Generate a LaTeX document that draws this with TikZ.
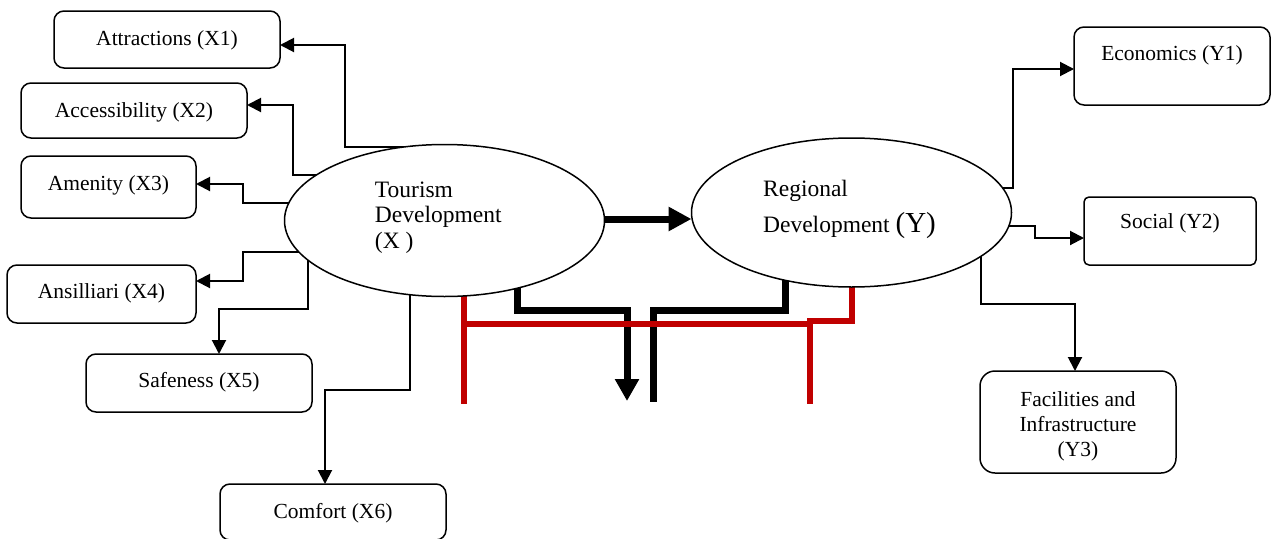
\documentclass[tikz,border=0pt]{standalone}
\usepackage{fontspec}
\setmainfont{Liberation Serif}
\usetikzlibrary{arrows.meta,shapes.geometric,calc}
\definecolor{darkred}{HTML}{C00000}
\pgfdeclarelayer{bg}
\pgfsetlayers{bg,main}
\begin{document}
\begin{tikzpicture}[x=1pt,y=-1pt,
  box/.style={draw, line width=1.5pt, rounded corners=10pt, inner sep=0pt, outer sep=0pt,
    font=\fontsize{21.5}{25}\selectfont, text height=16pt},
  oval/.style={draw, ellipse, fill=white, line width=1.5pt, inner sep=0pt, outer sep=0pt,
    font=\fontsize{23.5}{25.5}\selectfont, text height=16pt},
  conn/.style={line width=2pt, -{Triangle[length=14pt,width=14pt]}},
  heavy/.style={line width=7pt, line join=miter},
  redline/.style={draw=darkred, line width=6.5pt, line join=miter}]
\useasboundingbox (0,0) rectangle (1271,538);

% ovals
\node[oval, minimum width=320pt, minimum height=152pt, text depth=63pt] (tour) at (444.5,220.5)
  {\begin{tabular}[t]{@{}l@{\hspace{12.5pt}}}Tourism\\Development\\(X )\end{tabular}};
\node[oval, minimum width=320pt, minimum height=149pt, text depth=49pt] (reg) at (851.5,212.5)
  {\begin{tabular}[t]{@{}l@{\hspace{4pt}}}Regional\\[8.5pt]Development {\fontsize{29}{30}\selectfont(Y)}\end{tabular}};

% X boxes
\node[box, minimum width=226pt, minimum height=57pt, text depth=5pt] (x1) at (167,39.5) {Attractions (X1)};
\node[box, minimum width=226pt, minimum height=55pt, text depth=3pt] (x2) at (134,110.5) {Accessibility (X2)};
\node[box, minimum width=175pt, minimum height=62pt, text depth=10pt] (x3) at (108.5,187) {Amenity (X3)};
\node[box, minimum width=189pt, minimum height=58pt, text depth=8pt] (x4) at (101.5,294) {Ansilliari (X4)};
\node[box, minimum width=226pt, minimum height=58pt, text depth=8pt] (x5) at (199,383) {Safeness (X5)};
\node[box, minimum width=226pt, minimum height=56pt, text depth=4pt] (x6) at (333,512) {Comfort (X6)};

% Y boxes
\node[box, minimum width=196pt, minimum height=78pt, text depth=28pt] (y1) at (1172,66) {Economics (Y1)};
\node[box, rounded corners=5pt, minimum width=172pt, minimum height=68pt, text depth=22pt] (y2) at (1170,231) {Social (Y2)};
\node[box, rounded corners=15pt, minimum width=196pt, minimum height=102pt, text depth=48pt] (y3) at (1078,422)
  {\begin{tabular}[t]{@{}c@{}}Facilities and\\Infrastructure\\(Y3)\end{tabular}};

% start points inside the ovals
\coordinate (t0) at (598,219);
\coordinate (t1) at (415,147);
\coordinate (t2) at (325,175);
\coordinate (t3) at (295,203);
\coordinate (t4) at (305,252);
\coordinate (t5) at (308,255);
\coordinate (t6) at (410,285);
\coordinate (t7) at (995,188);
\coordinate (t8) at (1000,226);
\coordinate (t9) at (981,245);
\coordinate (b1) at (517,278);
\coordinate (b2) at (785,272);
\coordinate (r1) at (464,285);
\coordinate (r2) at (852,278);

\begin{pgfonlayer}{bg}
  \draw[conn] (t1) -| (345,45) -- (x1.east |- 0,45);
  \draw[conn] (t2) -| (293,105) -- (x2.east |- 0,105);
  \draw[conn] (t3) -| (243,184) -- (x3.east |- 0,184);
  \draw[conn] (t4) -| (243,281) -- (x4.east |- 0,281);
  \draw[conn] (t5) |- (219,309) -- (x5.north -| 219,0);
  \draw[conn] (t6) |- (325,390) -- (x6.north -| 325,0);
  \draw[conn] (t7) -| (1013,69) -- (y1.west |- 0,69);
  \draw[conn] (t8) -| (1035,238) -- (y2.west |- 0,238);
  \draw[conn] (t9) |- (1075,304) -- (y3.north -| 1075,0);
  % main arrow
  \draw[heavy, -{Triangle[length=23pt,width=23pt]}] (t0) -- (reg.west |- t0);
  % black bottom paths
  \draw[heavy, -{Triangle[length=22pt,width=23pt]}] (b1) |- (627,310) -- (627,401);
  \draw[heavy] (b2) |- (653,310) -- (653,402);
  % red paths
  \draw[redline] (r1) -- (464,404);
  \draw[redline] (464,324) -- (810,324);
  \draw[redline] (r2) |- (810,321) -- (810,404);
\end{pgfonlayer}
\end{tikzpicture}
\end{document}
